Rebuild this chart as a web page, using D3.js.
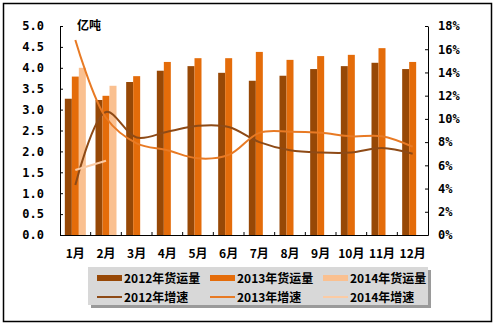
<!DOCTYPE html>
<html><head><meta charset="utf-8">
<script src="https://cdn.jsdelivr.net/npm/d3@7"></script>
<style>body{margin:0;background:#fff}svg{display:block}</style>
</head><body>
<svg id="c" width="495" height="326"></svg>
<script>
const months = ["1月","2月","3月","4月","5月","6月","7月","8月","9月","10月","11月","12月"];
const vol2012 = [3.26,3.23,3.66,3.93,4.04,3.88,3.69,3.81,3.97,4.04,4.12,3.97];
const vol2013 = [3.79,3.33,3.80,4.14,4.23,4.23,4.38,4.19,4.28,4.31,4.47,4.14];
const vol2014 = [4.00,3.57];
const gr2012 = [4.3,10.6,8.4,8.9,9.4,9.3,8.0,7.3,7.1,7.1,7.5,7.0];
const gr2013 = [16.8,10.1,7.9,7.3,6.6,6.9,8.8,8.9,8.8,8.5,8.5,7.6];
const gr2014 = [5.6,6.4];
const leftTicks = [0,0.5,1,1.5,2,2.5,3,3.5,4,4.5,5];
const rightTicks = [0,2,4,6,8,10,12,14,16,18];
const unitLabel = "亿吨";
const legendBars = ["2012年货运量","2013年货运量","2014年货运量"];
const legendLines = ["2012年增速","2013年增速","2014年增速"];

const barColors = ["#974806","#E46C0A","#FAC090"];
const lineColors = ["#8E4A16","#E87A24","#FBCBA4"];

const svg = d3.select("#c");
const L = 60, R = 428, T = 26, B = 235;

svg.append("rect").attr("x",3.5).attr("y",3.5).attr("width",488).attr("height",318)
  .attr("fill","#fff").attr("stroke","#000").attr("stroke-width",1.5);

const x = d3.scaleBand().domain(months).range([L,R]).padding(0);
const yL = d3.scaleLinear().domain([0,5]).range([B,T]);
const yR = d3.scaleLinear().domain([0,18]).range([B,T]);
const inner = d3.scaleBand().domain([0,1,2]).range([0,21]);
const groupOff = (x.bandwidth()-21)/2;

const numFont = "'DejaVu Sans Mono', monospace";

// bars
[vol2012, vol2013, vol2014].forEach((arr,si)=>{
  svg.append("g").selectAll("rect").data(arr).join("rect")
    .attr("x",(d,i)=>x(months[i])+groupOff+inner(si))
    .attr("width",inner.bandwidth())
    .attr("y",d=>yL(d))
    .attr("height",d=>B-yL(d))
    .attr("fill",barColors[si]);
});

// lines
const line = d3.line().curve(d3.curveCatmullRom.alpha(0.5))
  .x((d,i)=>x(months[i])+x.bandwidth()/2).y(d=>yR(d));
[gr2012, gr2013, gr2014].forEach((arr,si)=>{
  svg.append("path").datum(arr).attr("d",line).attr("fill","none")
    .attr("stroke",lineColors[si]).attr("stroke-width",2);
});

// axes
const axL = svg.append("g").attr("transform",`translate(${L},0)`)
  .call(d3.axisLeft(yL).tickValues(leftTicks).tickFormat(d3.format(".1f")).tickSizeInner(-3).tickSizeOuter(0).tickPadding(16));
const axR = svg.append("g").attr("transform",`translate(${R},0)`)
  .call(d3.axisRight(yR).tickValues(rightTicks).tickFormat(d=>d+"%").tickSizeInner(-3).tickSizeOuter(0).tickPadding(10));
const axB = svg.append("g").attr("transform",`translate(0,${B})`)
  .call(d3.axisBottom(x).tickSize(0).tickPadding(14));
// category boundary ticks
svg.append("g").selectAll("line").data(months.slice(1)).join("line")
  .attr("x1",d=>x(d)).attr("x2",d=>x(d)).attr("y1",B).attr("y2",B-3)
  .attr("stroke","#000");

[axL,axR,axB].forEach(a=>{
  a.select(".domain").attr("stroke","#000");
  a.selectAll(".tick line").attr("stroke","#000");
  a.selectAll("text").attr("fill","#000").attr("font-weight","bold");
});
axL.selectAll("text").attr("font-family",numFont).attr("font-size","12px").attr("letter-spacing","0px");
axR.selectAll("text").attr("font-family",numFont).attr("font-size","12px");
axB.selectAll("text").attr("font-family","'Noto Sans CJK SC', sans-serif").attr("font-size","12px");

svg.append("text").attr("x",77).attr("y",30).text(unitLabel)
  .attr("font-family","'Noto Sans CJK SC', sans-serif").attr("font-size","12px").attr("font-weight","bold");

// legend
const lg = svg.append("g");
lg.append("rect").attr("x",91).attr("y",270).attr("width",340).attr("height",38).attr("fill","#9a9a9a");
lg.append("rect").attr("x",88).attr("y",267).attr("width",340).attr("height",38).attr("fill","#d8d8d8");
const colX = [97,210,323];
legendBars.forEach((t,i)=>{
  lg.append("rect").attr("x",colX[i]).attr("y",275).attr("width",25).attr("height",6).attr("fill",barColors[i]);
  lg.append("text").attr("x",colX[i]+27).attr("y",283).text(t)
    .attr("font-family","'Noto Sans CJK SC', sans-serif").attr("font-size","12px").attr("font-weight","bold");
});
legendLines.forEach((t,i)=>{
  lg.append("line").attr("x1",colX[i]).attr("x2",colX[i]+25).attr("y1",297).attr("y2",297)
    .attr("stroke",lineColors[i]).attr("stroke-width",2);
  lg.append("text").attr("x",colX[i]+27).attr("y",302).text(t)
    .attr("font-family","'Noto Sans CJK SC', sans-serif").attr("font-size","12px").attr("font-weight","bold");
});
</script>
</body></html>
